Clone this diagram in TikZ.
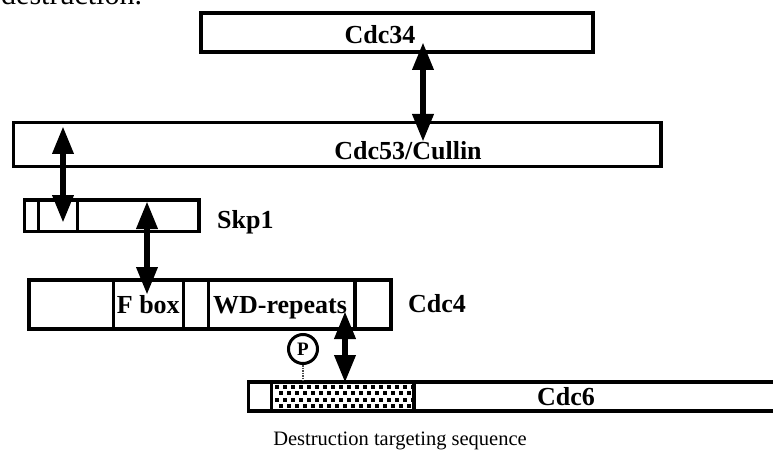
\documentclass[tikz,border=0pt]{standalone}
\usepackage{fontspec}
\setmainfont{Liberation Serif}
\usetikzlibrary{arrows.meta, positioning, calc}
\tikzset{
	prot/.style   ={rectangle, draw=black, line width=3.5pt, inner sep=0pt, fill=white},
	divline/.style={line width=3.5pt},
	bind/.style   ={{Triangle[length=28pt,width=20pt]}-{Triangle[length=28pt,width=20pt]}, line width=6.5pt},
	lbl/.style    ={font=\bfseries\fontsize{26}{30}\selectfont, inner sep=0pt},
	note/.style   ={font=\fontsize{20.5}{24}\selectfont, inner sep=0pt},
	pline/.style  ={densely dotted, line width=1.5pt, black!70},
}
\begin{document}
\begin{tikzpicture}[x=1pt, y=-1pt]
	\useasboundingbox (0,0) rectangle (773,457);
	\clip (0,0) rectangle (773,457);
	% cut-off caption line above
	\node[anchor=base west, inner sep=0pt, font=\fontsize{30}{34}\selectfont] (tTop) at (1,5) {destruction.};
	% protein bars
	\node[prot, minimum width=392pt, minimum height=39pt] (cdcA) at (397,32.5) {};
	\node[prot, minimum width=647.5pt, minimum height=44pt] (cdcB) at (337.25,144.5) {};
	\node[prot, minimum width=174.5pt, minimum height=31.5pt] (skp) at (111.75,215.75) {};
	\node[prot, minimum width=362pt, minimum height=49pt] (cdcC) at (210,304.5) {};
	\node[prot, minimum width=551.5pt, minimum height=29pt] (cdcD) at (524.25,396.5) {};
	% domain borders
	\foreach \x in {38.7,77.7} \draw[divline] (\x,200) -- (\x,231.5);
	\foreach \x in {113.3,183.3,208.3,355} \draw[divline] (\x,280) -- (\x,329);
	\foreach \x in {271.7,414} \draw[divline] (\x,382) -- (\x,411);
	% destruction targeting sequence
	\begin{scope}
		\clip (273.5,383.75) rectangle (412.2,409.25);
		\foreach \j in {0,...,3}
			\foreach \i in {0,...,18}
				\fill ({275+8*\i+4*mod(\j,2)},{385+6.3*\j}) rectangle ++(4,4);
	\end{scope}
	% labels
	\node[lbl, anchor=base] (tCdcA) at (380,43.3) {Cdc34};
	\node[lbl, anchor=base] (tCdcB) at (408,160) {Cdc53/Cullin};
	\node[lbl, anchor=base west] (tSkp) at (217,228) {Skp1};
	\node[lbl, anchor=base] (tFbox) at (148.3,313) {F box};
	\node[lbl, anchor=base] (tWD) at (280,313) {WD-repeats};
	\node[lbl, anchor=base west] (tCdcC) at (408,312) {Cdc4};
	\node[lbl, anchor=base west] (tCdcD) at (537,405) {Cdc6};
	\node[note, anchor=base] (tDts) at (400,445) {Destruction targeting sequence};
	% phosphate
	\node[circle, draw=black, line width=3pt, minimum size=29pt, inner sep=0pt, fill=white,
		font=\bfseries\fontsize{19}{19}\selectfont] (phos) at (303,349) {P};
	\draw[pline] (phos.south) -- (phos.south |- cdcD.north);
	% binding arrows
	\coordinate (bA1) at (423,42);   \coordinate (bA2) at (423,142);
	\coordinate (bB1) at (63,126);   \coordinate (bB2) at (63,223);
	\coordinate (bC1) at (147,201);  \coordinate (bC2) at (147,295);
	\coordinate (bD1) at (345,311);  \coordinate (bD2) at (345,383);
	\draw[bind] (bA1) -- (bA2);
	\draw[bind] (bB1) -- (bB2);
	\draw[bind] (bC1) -- (bC2);
	\draw[bind] (bD1) -- (bD2);
\end{tikzpicture}
\end{document}
